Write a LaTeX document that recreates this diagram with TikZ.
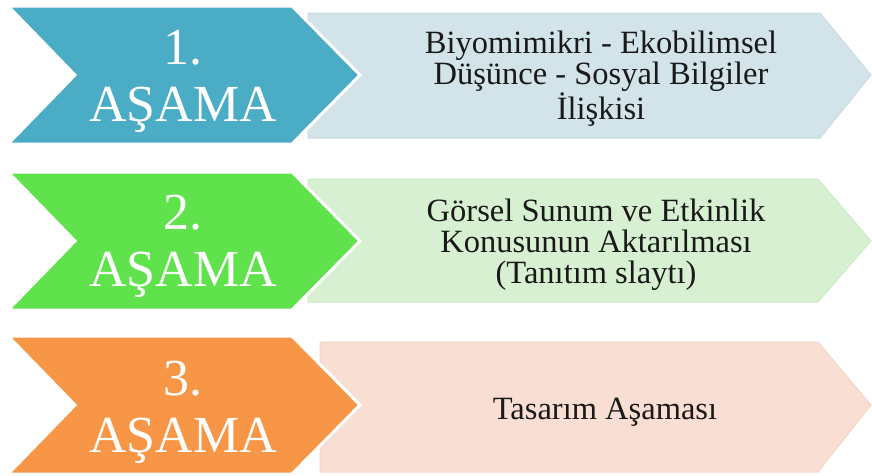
\documentclass[tikz,border=0pt]{standalone}
\usepackage{fontspec}
\setmainfont{Liberation Serif}
\usepackage{tikz}
\usetikzlibrary{shapes}

\definecolor{stepblue}{RGB}{75,172,198}
\definecolor{stepbluelight}{RGB}{210,228,233}
\definecolor{stepblueedge}{RGB}{200,220,227}
\definecolor{stepgreen}{RGB}{96,226,76}
\definecolor{stepgreenlight}{RGB}{214,240,209}
\definecolor{stepgreenedge}{RGB}{204,236,198}
\definecolor{steporange}{RGB}{247,150,70}
\definecolor{steporangelight}{RGB}{248,222,211}
\definecolor{steporangeedge}{RGB}{244,214,201}

\begin{document}
\begin{tikzpicture}[x=1pt,y=-1pt]
    \tikzstyle{chevron}=[draw=white,line width=3pt,line join=miter]
    \tikzstyle{backarrow}=[line width=1pt,line join=miter]
    \tikzstyle{stagelabel}=[text=white,align=center,inner sep=0pt,font=\fontsize{52}{57}\selectfont]
    \tikzstyle{infolabel}=[text=black!90,align=center,inner sep=0pt,font=\fontsize{32.5}{31}\selectfont]
    \useasboundingbox (0,0) rectangle (872,475);
    % 1. asama
    \filldraw[backarrow,fill=stepbluelight,draw=stepblueedge]
      (308,13) -- (820,13) -- (871,75) -- (820,138) -- (308,138) -- cycle;
    \filldraw[chevron,fill=stepblue]
      (8,6) -- (292,6) -- (360,75) -- (292,144) -- (8,144) -- (75,75) -- cycle;
    \node[stagelabel] (stage1) at (183,81) {1.\\AŞAMA};
    \node[infolabel] (info1) at (601,79) {Biyomimikri - Ekobilimsel\\Düşünce - Sosyal Bilgiler\\İlişkisi};
    % 2. asama
    \filldraw[backarrow,fill=stepgreenlight,draw=stepgreenedge]
      (308,179) -- (818,179) -- (871,241) -- (818,302) -- (308,302) -- cycle;
    \filldraw[chevron,fill=stepgreen]
      (8,172) -- (292,172) -- (360,241) -- (292,310) -- (8,310) -- (75,241) -- cycle;
    \node[stagelabel] (stage2) at (183,246) {2.\\AŞAMA};
    \node[infolabel] (info2) at (596,245) {Görsel Sunum ve Etkinlik\\Konusunun Aktarılması\\(Tanıtım slaytı)};
    % 3. asama
    \filldraw[backarrow,fill=steporangelight,draw=steporangeedge]
      (320,342) -- (818,342) -- (871,405) -- (818,472) -- (320,472) -- cycle;
    \filldraw[chevron,fill=steporange]
      (8,336) -- (292,336) -- (360,405) -- (292,474) -- (8,474) -- (75,405) -- cycle;
    \node[stagelabel] (stage3) at (183,412) {3.\\AŞAMA};
    \node[infolabel] (info3) at (605,412) {Tasarım Aşaması};
\end{tikzpicture}
\end{document}
